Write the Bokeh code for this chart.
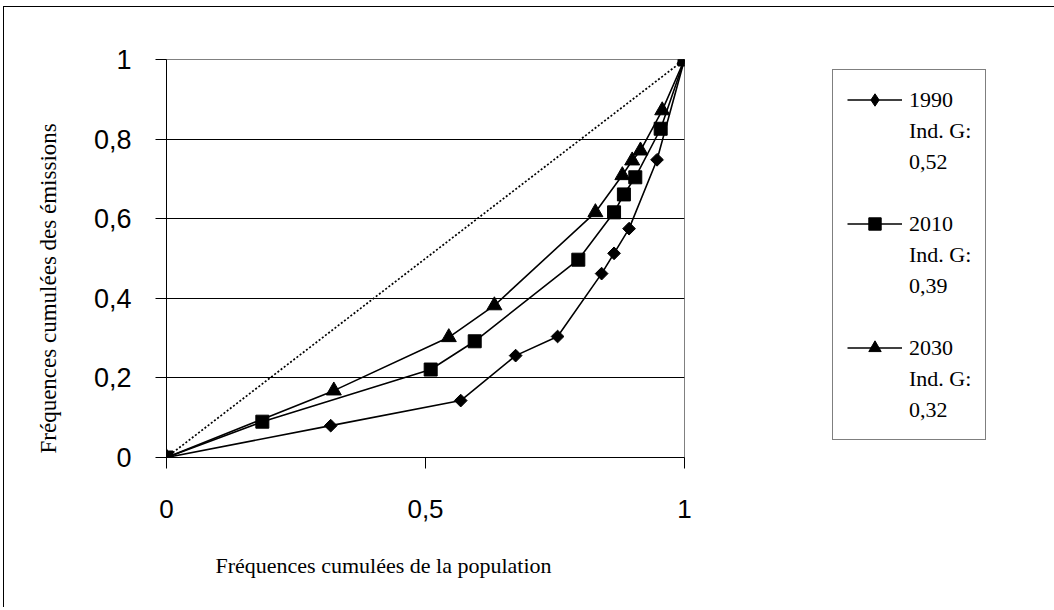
import math
from bokeh.plotting import figure
from bokeh.models import (Legend, LegendItem, Title, FixedTicker,
                          CustomJSTickFormatter, Range1d)
from bokeh.embed import file_html
from bokeh.resources import INLINE

# ---- data ----
pop_1990 = [0, 0.317, 0.568, 0.674, 0.755, 0.840, 0.864, 0.893, 0.947, 1]
emi_1990 = [0, 0.080, 0.143, 0.256, 0.304, 0.462, 0.513, 0.575, 0.748, 1]
pop_2010 = [0, 0.185, 0.510, 0.595, 0.795, 0.864, 0.883, 0.905, 0.954, 1]
emi_2010 = [0, 0.090, 0.221, 0.292, 0.497, 0.616, 0.661, 0.704, 0.826, 1]
pop_2030 = [0, 0.323, 0.545, 0.633, 0.828, 0.880, 0.899, 0.915, 0.957, 1]
emi_2030 = [0, 0.168, 0.302, 0.382, 0.616, 0.709, 0.746, 0.771, 0.872, 1]
equality_x = [0, 1]
equality_y = [0, 1]

series_years = ["1990", "2010", "2030"]
gini_labels = ["0,52", "0,39", "0,32"]
gini_prefix = "Ind. G:"
x_ticks = [0, 0.5, 1]
y_ticks = [0, 0.2, 0.4, 0.6, 0.8, 1]
x_title = "Fréquences cumulées de la population"
y_title = "Fréquences cumulées des émissions"

p = figure(frame_width=518, frame_height=398,
           min_border_left=162, min_border_right=366,
           min_border_top=52, min_border_bottom=150,
           x_range=Range1d(0, 1), y_range=Range1d(0, 1),
           output_backend="svg", toolbar_location=None,
           background_fill_color="white", border_fill_color="white")
p.styles = {"margin-left": "3px", "margin-top": "6px",
            "border-left": "1px solid #000000", "border-top": "1px solid #000000"}
p.outline_line_color = "#808080"
p.outline_line_width = 1

# axes
fmt = CustomJSTickFormatter(code="return tick.toString().replace('.', ',')")
for ax, ticks, fs, so in ((p.xaxis[0], x_ticks, "26px", 31), (p.yaxis[0], y_ticks, "27px", 24)):
    ax.ticker = FixedTicker(ticks=ticks)
    ax.formatter = fmt
    ax.major_tick_in = 0
    ax.major_tick_out = 11
    ax.minor_tick_line_color = None
    ax.axis_line_color = "black"
    ax.major_tick_line_color = "black"
    ax.major_label_text_font = "Liberation Sans"
    ax.major_label_text_font_size = fs
    ax.major_label_text_color = "black"
    ax.major_label_standoff = so

p.xgrid.visible = False
p.ygrid.ticker = FixedTicker(ticks=y_ticks)
p.ygrid.grid_line_color = "black"
p.ygrid.grid_line_width = 1

# equality line
p.line(equality_x, equality_y, line_color="black", line_width=1.7, line_dash="2 2")

lw = 1.6
l90 = p.line(pop_1990, emi_1990, line_color="black", line_width=lw)
s90 = p.scatter(pop_1990, emi_1990, marker="square", angle=math.pi / 4, size=9,
                fill_color="black", line_color="black")
l10 = p.line(pop_2010, emi_2010, line_color="black", line_width=lw)
s10 = p.scatter(pop_2010, emi_2010, marker="square", size=13,
                fill_color="black", line_color="black")
l30 = p.line(pop_2030, emi_2030, line_color="black", line_width=lw)
s30 = p.scatter(pop_2030, emi_2030, marker="triangle", size=15,
                fill_color="black", line_color="black")

# legend key for 1990 (size 0 in the plot; the legend sizes its own key)
key_diamond = p.scatter(pop_1990, emi_1990, marker="diamond", size=0,
                        fill_color="black", line_color="black")
# empty key for the text-only legend rows
key_blank = p.line(x=[], y=[], line_color=None)

keys = [[l90, key_diamond], [l10, s10], [l30, s30]]
items = []
for i, (yr, g) in enumerate(zip(series_years, gini_labels)):
    if i > 0:
        items.append(LegendItem(label=" ", renderers=[key_blank]))
    items.append(LegendItem(label=yr, renderers=keys[i]))
    items.append(LegendItem(label=gini_prefix, renderers=[key_blank]))
    items.append(LegendItem(label=g, renderers=[key_blank]))

legend = Legend(items=items, location=(148, 17), orientation="vertical",
                glyph_width=55, glyph_height=31, label_height=31,
                label_standoff=7, spacing=0, padding=14, margin=80,
                border_line_color="black", border_line_width=1,
                background_fill_color="white", background_fill_alpha=1,
                label_text_font="Liberation Serif", label_text_font_size="22px",
                label_text_color="black")
p.add_layout(legend, "right")

# axis titles
p.add_layout(Title(text=x_title, align="left", offset=49, standoff=60,
                   text_font="Liberation Serif", text_font_size="22px",
                   text_font_style="normal", text_color="black"), "below")
p.add_layout(Title(text=y_title, align="left", offset=4, standoff=59,
                   text_font="Liberation Serif", text_font_size="23px",
                   text_font_style="normal", text_color="black"), "left")

open("out.html", "w").write(file_html(p, INLINE))
